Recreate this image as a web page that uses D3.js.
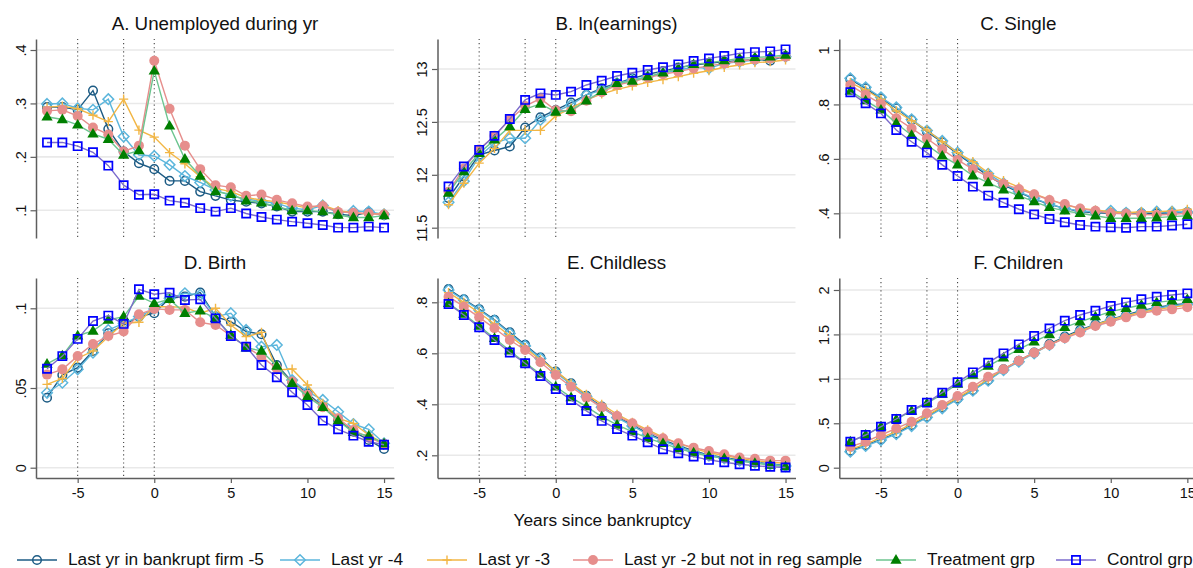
<!DOCTYPE html>
<html>
<head>
<meta charset="utf-8">
<script src="https://cdn.jsdelivr.net/npm/d3@7"></script>
<style>
  body { margin: 0; background: #fff; }
  svg { display: block; font-family: "Liberation Sans", Arial, Helvetica, sans-serif; }
</style>
</head>
<body>
<svg id="chart" width="1193" height="568"></svg>
<script>
// ---- data -------------------------------------------------------------
const years = [-7, -6, -5, -4, -3, -2, -1, 0, 1, 2, 3, 4, 5, 6, 7, 8, 9, 10, 11, 12, 13, 14, 15];

const seriesNames = [
  "Last yr in bankrupt firm -5",
  "Last yr -4",
  "Last yr -3",
  "Last yr -2 but not in reg sample",
  "Treatment grp",
  "Control grp"
];

const panelTitles = [
  "A. Unemployed during yr", "B. ln(earnings)", "C. Single",
  "D. Birth", "E. Childless", "F. Children"
];

const eventYears = [-5, -2, 0];
const xTickValues = [-5, 0, 5, 10, 15];
const xTickLabels = ["-5", "0", "5", "10", "15"];
const xAxisTitle = "Years since bankruptcy";

// each panel: one row per series, in the order of seriesNames
const unemployed = [
  [.293, .293, .288, .324, .252, .210, .188, .177, .155, .155, .135, .127, .119, .116, .113, .107, .0975, .0975, .0975, .0925, .090, .096, .091],
  [.299, .300, .291, .288, .308, .238, .2035, .2016, .185, .164, .152, .138, .127, .121, .117, .113, .104, .101, .109, .0955, .0987, .0975, .0924],
  [.293, .295, .290, .278, .266, .308, .250, .237, .208, .187, .163, .141, .135, .124, .119, .116, .110, .104, .110, .0993, .0955, .0924, .0943],
  [.286, .288, .2765, .255, .242, .210, .221, .380, .290, .221, .177, .147, .143, .127, .1295, .1195, .113, .107, .108, .097, .0955, .094, .092],
  [.275, .270, .260, .243, .233, .2035, .2116, .361, .258, .196, .164, .135, .130, .118, .114, .107, .0993, .0993, .0975, .0912, .0865, .0865, .090],
  [.227, .227, .220, .2085, .1835, .147, .129, .130, .118, .114, .104, .0975, .104, .094, .0875, .0825, .0787, .0756, .0725, .0675, .0675, .0694, .0675]
];
const lnEarnings = [
  [11.78, 11.984, 12.189, 12.23, 12.267, 12.447, 12.544, 12.613, 12.682, 12.755, 12.818, 12.865, 12.912, 12.95, 12.98, 13.013, 13.038, 13.053, 13.07, 13.079, 13.091, 13.079, 13.123],
  [11.74, 11.94, 12.173, 12.30, 12.346, 12.346, 12.519, 12.597, 12.66, 12.755, 12.80, 12.865, 12.896, 12.928, 12.959, 12.99, 13.016, 13.006, 13.053, 13.069, 13.085, 13.10, 13.116],
  [11.717, 11.92, 12.11, 12.25, 12.42, 12.42, 12.42, 12.557, 12.63, 12.708, 12.764, 12.808, 12.84, 12.874, 12.90, 12.928, 12.96, 12.984, 13.016, 13.038, 13.06, 13.069, 13.085],
  [11.84, 12.06, 12.24, 12.37, 12.52, 12.65, 12.72, 12.61, 12.60, 12.70, 12.78, 12.85, 12.88, 12.92, 12.95, 12.975, 13.006, 13.03, 13.053, 13.075, 13.09, 13.10, 13.116],
  [11.827, 12.031, 12.204, 12.33, 12.456, 12.62, 12.67, 12.594, 12.61, 12.70, 12.79, 12.865, 12.887, 12.928, 12.965, 13.006, 13.044, 13.06, 13.079, 13.10, 13.11, 13.116, 13.132],
  [11.89, 12.079, 12.236, 12.368, 12.528, 12.708, 12.77, 12.755, 12.786, 12.849, 12.89, 12.934, 12.965, 12.991, 13.016, 13.044, 13.075, 13.10, 13.123, 13.148, 13.16, 13.167, 13.186]
];
const single = [
  [.892, .859, .822, .786, .743, .700, .661, .618, .578, .537, .504, .477, .453, .433, .418, .406, .402, .400, .400, .400, .400, .402, .404],
  [.896, .863, .826, .789, .745, .704, .666, .623, .581, .545, .510, .480, .455, .434, .418, .409, .406, .409, .402, .402, .406, .406, .404],
  [.880, .853, .819, .776, .740, .706, .663, .623, .590, .549, .520, .496, .471, .451, .431, .418, .412, .406, .402, .406, .406, .409, .415],
  [.871, .835, .802, .749, .712, .675, .635, .596, .562, .535, .508, .489, .470, .449, .434, .418, .409, .400, .398, .396, .394, .396, .400],
  [.849, .814, .780, .731, .687, .651, .611, .578, .538, .513, .486, .465, .443, .422, .409, .400, .391, .382, .382, .382, .384, .388, .391],
  [.8445, .804, .767, .706, .663, .623, .578, .537, .498, .465, .439, .415, .396, .379, .367, .357, .351, .349, .347, .351, .351, .355, .360]
];
const birth = [
  [.0439, .0582, .0628, .0732, .0843, .0895, .0948, .0969, .1063, .1073, .1098, .0948, .0916, .0854, .0837, .0644, .054, .0467, .0383, .0299, .0226, .0174, .0117],
  [.047, .0533, .0617, .0722, .0864, .0906, .0948, .0996, .1063, .1094, .1084, .0948, .0969, .0864, .0759, .077, .055, .0477, .0425, .0351, .0274, .0241, .0153],
  [.0523, .056, .0686, .0732, .0822, .0906, .0912, .101, .101, .1006, .0969, .100, .0895, .0822, .0849, .0613, .0619, .0519, .0404, .031, .0278, .0205, .0153],
  [.0584, .0617, .070, .0776, .0826, .0854, .0962, .0996, .099, .099, .0912, .0895, .0828, .0759, .0697, .0623, .054, .0456, .0379, .031, .0236, .0188, .0149],
  [.0651, .0703, .0828, .0858, .0927, .0948, .1077, .1031, .1056, .0969, .0985, .0937, .0833, .0753, .0732, .0638, .0529, .0446, .0379, .0295, .0222, .0199, .0151],
  [.0621, .070, .0808, .092, .0954, .0902, .1119, .1088, .1098, .1052, .1056, .0937, .0826, .0759, .0644, .0567, .0473, .0393, .0295, .0241, .0201, .0163, .0144]
];
const childless = [
  [.852, .812, .773, .731, .682, .633, .583, .528, .482, .433, .391, .352, .319, .286, .260, .238, .218, .201, .191, .182, .173, .166, .160],
  [.848, .809, .770, .728, .678, .629, .580, .525, .478, .430, .388, .348, .315, .282, .256, .234, .214, .199, .188, .179, .171, .165, .158],
  [.838, .800, .759, .715, .669, .622, .574, .531, .482, .439, .400, .361, .329, .300, .271, .247, .227, .210, .199, .188, .179, .173, .169],
  [.822, .783, .741, .698, .652, .613, .565, .515, .469, .426, .388, .354, .326, .293, .267, .247, .230, .217, .204, .191, .186, .179, .179],
  [.796, .754, .707, .659, .610, .563, .519, .469, .427, .391, .352, .319, .293, .267, .247, .227, .210, .197, .188, .178, .169, .162, .156],
  [.7935, .750, .702, .652, .603, .561, .511, .460, .417, .374, .335, .303, .277, .251, .224, .208, .195, .182, .173, .165, .159, .155, .152]
];
const children = [
  [.191, .255, .319, .386, .480, .574, .679, .780, .874, .987, 1.107, 1.204, 1.295, 1.392, 1.475, 1.550, 1.613, 1.670, 1.719, 1.767, 1.805, 1.831, 1.850],
  [.180, .244, .311, .379, .469, .567, .668, .769, .867, .979, 1.099, 1.193, 1.287, 1.381, 1.463, 1.538, 1.606, 1.662, 1.711, 1.756, 1.794, 1.820, 1.840],
  [.206, .266, .338, .405, .492, .585, .687, .788, .886, .998, 1.111, 1.204, 1.295, 1.381, 1.463, 1.538, 1.606, 1.662, 1.707, 1.749, 1.782, 1.805, 1.831],
  [.236, .293, .368, .443, .518, .612, .705, .807, .912, 1.024, 1.107, 1.204, 1.295, 1.381, 1.456, 1.523, 1.595, 1.643, 1.692, 1.737, 1.767, 1.782, 1.805],
  [.293, .368, .462, .544, .638, .724, .829, .942, 1.043, 1.144, 1.238, 1.332, 1.418, 1.500, 1.580, 1.643, 1.700, 1.756, 1.794, 1.831, 1.861, 1.880, 1.895],
  [.293, .368, .462, .548, .649, .732, .844, .961, 1.073, 1.182, 1.287, 1.388, 1.482, 1.568, 1.655, 1.719, 1.767, 1.820, 1.861, 1.895, 1.925, 1.944, 1.962]
];

// y-axis ticks per panel
const unemployedTicks = [0.1, 0.2, 0.3, 0.4];
const unemployedTickLabels = [".1", ".2", ".3", ".4"];
const lnEarningsTicks = [11.5, 12, 12.5, 13];
const lnEarningsTickLabels = ["11.5", "12", "12.5", "13"];
const singleTicks = [0.4, 0.6, 0.8, 1];
const singleTickLabels = [".4", ".6", ".8", "1"];
const birthTicks = [0, 0.05, 0.1];
const birthTickLabels = ["0", ".05", ".1"];
const childlessTicks = [0.2, 0.4, 0.6, 0.8];
const childlessTickLabels = [".2", ".4", ".6", ".8"];
const childrenTicks = [0, 0.5, 1, 1.5, 2];
const childrenTickLabels = ["0", ".5", "1", "1.5", "2"];

// ---- layout & style -----------------------------------------------------
const W = 1193, H = 568;
const colLeft = [36, 437.5, 839.3];
const plotW = 358;
const rowTop = [39, 278];
const rowBottom = [238, 478];
const xDomain = [-7.72, 15.65];

const panels = [
  { title: panelTitles[0], values: unemployed, ticks: unemployedTicks, labels: unemployedTickLabels, yDomain: [0.0481, 0.4206] },
  { title: panelTitles[1], values: lnEarnings, ticks: lnEarningsTicks, labels: lnEarningsTickLabels, yDomain: [11.4026, 13.2836] },
  { title: panelTitles[2], values: single, ticks: singleTicks, labels: singleTickLabels, yDomain: [0.3093, 1.0404] },
  { title: panelTitles[3], values: birth, ticks: birthTicks, labels: birthTickLabels, yDomain: [-0.00646, 0.119] },
  { title: panelTitles[4], values: childless, ticks: childlessTicks, labels: childlessTickLabels, yDomain: [0.111, 0.8953] },
  { title: panelTitles[5], values: children, ticks: childrenTicks, labels: childrenTickLabels, yDomain: [-0.116, 2.135] }
];

const seriesStyle = [
  { line: "#1c5b84", shape: "circle",   size: 4.3, stroke: "#1c5b84", fill: "none",    sw: 1.5 },
  { line: "#5cb6dc", shape: "diamond",  size: 5.3, stroke: "#5cb6dc", fill: "none",    sw: 1.5 },
  { line: "#f2b645", shape: "plus",     size: 4.6, stroke: "#f2b645", fill: "none",    sw: 1.4 },
  { line: "#e68e8c", shape: "circle",   size: 5.0, stroke: "none",    fill: "#e68e8c", sw: 0 },
  { line: "#6cc58f", shape: "triangle", size: 6.2, stroke: "none",    fill: "#007f00", sw: 0 },
  { line: "#7b6bcc", shape: "square",   size: 4.1, stroke: "#0000ff", fill: "none",    sw: 1.7 }
];

const legendLineX = [17, 280, 427, 573, 876, 1056];
const fontTitle = 18.8, fontTick = 14.5, fontLegend = 17.3;
const axisColor = "#5e5e5e", gridColor = "#e9e9e9";

function markerPath(shape, s) {
  const p = d3.path();
  if (shape === "circle") {
    p.moveTo(s, 0); p.arc(0, 0, s, 0, 2 * Math.PI); p.closePath();
  } else if (shape === "diamond") {
    p.moveTo(0, -s); p.lineTo(s, 0); p.lineTo(0, s); p.lineTo(-s, 0); p.closePath();
  } else if (shape === "plus") {
    p.moveTo(-s, 0); p.lineTo(s, 0); p.moveTo(0, -s); p.lineTo(0, s);
  } else if (shape === "triangle") {
    const h = s * Math.sqrt(3) / 2;
    p.moveTo(0, -s * 0.95); p.lineTo(h * 1.05, s * 0.6); p.lineTo(-h * 1.05, s * 0.6); p.closePath();
  } else if (shape === "square") {
    p.rect(-s, -s, 2 * s, 2 * s);
  }
  return p.toString();
}

// ---- drawing -------------------------------------------------------------
const svg = d3.select("#chart");
svg.append("rect").attr("width", W).attr("height", H).attr("fill", "#fff");

panels.forEach((panel, pi) => {
  const row = Math.floor(pi / 3), col = pi % 3;
  const left = colLeft[col], right = left + plotW;
  const top = rowTop[row], bottom = rowBottom[row];

  const x = d3.scaleLinear().domain(xDomain).range([left, right]);
  const y = d3.scaleLinear().domain(panel.yDomain).range([bottom, top]);

  const g = svg.append("g").attr("class", "panel");

  // horizontal grid
  g.append("g").selectAll("line").data(panel.ticks).join("line")
    .attr("x1", left).attr("x2", right)
    .attr("y1", d => y(d)).attr("y2", d => y(d))
    .attr("stroke", gridColor).attr("stroke-width", 1.6);

  // dotted event lines
  g.append("g").selectAll("line").data(eventYears).join("line")
    .attr("x1", d => x(d)).attr("x2", d => x(d))
    .attr("y1", top).attr("y2", bottom)
    .attr("stroke", "#444").attr("stroke-width", 1.1)
    .attr("stroke-dasharray", "1.1,3");

  // y axis
  const yAxis = d3.axisLeft(y)
    .tickValues(panel.ticks)
    .tickFormat((d, i) => panel.labels[i])
    .tickSize(5.5).tickSizeOuter(0);
  const ya = g.append("g").attr("transform", `translate(${left},0)`).call(yAxis);
  ya.select(".domain").attr("stroke", axisColor).attr("stroke-width", 1.5);
  ya.selectAll(".tick line").attr("stroke", axisColor).attr("stroke-width", 1.2);
  ya.selectAll(".tick text")
    .attr("x", null).attr("dy", null)
    .attr("text-anchor", "middle")
    .attr("transform", "translate(-10.5,0) rotate(-90)")
    .attr("fill", "#111")
    .style("font-size", fontTick + "px")
    .style("font-family", "'Liberation Sans', Arial, sans-serif");

  // x axis on the bottom row only
  if (row === 1) {
    const xAxis = d3.axisBottom(x)
      .tickValues(xTickValues)
      .tickFormat((d, i) => xTickLabels[i])
      .tickSize(5).tickSizeOuter(0).tickPadding(5);
    const xa = g.append("g").attr("transform", `translate(0,${bottom})`).call(xAxis);
    xa.select(".domain").attr("stroke", axisColor).attr("stroke-width", 1.5);
    xa.selectAll(".tick line").attr("stroke", axisColor).attr("stroke-width", 1.2);
    xa.selectAll(".tick text")
      .attr("fill", "#111")
      .style("font-size", fontTick + "px")
      .style("font-family", "'Liberation Sans', Arial, sans-serif");
  }

  // title
  g.append("text")
    .attr("x", (left + right) / 2).attr("y", top - 9)
    .attr("text-anchor", "middle")
    .attr("fill", "#111")
    .style("font-size", fontTitle + "px")
    .text(panel.title);

  // series: line then markers, in legend order
  const line = d3.line().x((d, i) => x(years[i])).y(d => y(d));
  panel.values.forEach((vals, si) => {
    const st = seriesStyle[si];
    const sg = g.append("g");
    sg.append("path").datum(vals)
      .attr("d", line)
      .attr("fill", "none")
      .attr("stroke", st.line)
      .attr("stroke-width", 1.4);
    sg.selectAll("path.mk").data(vals).join("path")
      .attr("class", "mk")
      .attr("transform", (d, i) => `translate(${x(years[i])},${y(d)})`)
      .attr("d", markerPath(st.shape, st.size))
      .attr("fill", st.fill)
      .attr("stroke", st.stroke)
      .attr("stroke-width", st.sw);
  });
});

// x axis title
svg.append("text")
  .attr("x", 602.5).attr("y", 526)
  .attr("text-anchor", "middle")
  .attr("fill", "#111")
  .style("font-size", fontLegend + "px")
  .text(xAxisTitle);

// legend
const legend = svg.append("g");
seriesNames.forEach((name, i) => {
  const st = seriesStyle[i];
  const lx = legendLineX[i], ly = 560;
  const item = legend.append("g");
  item.append("line")
    .attr("x1", lx).attr("x2", lx + 40)
    .attr("y1", ly).attr("y2", ly)
    .attr("stroke", st.line).attr("stroke-width", 1.6);
  item.append("path")
    .attr("transform", `translate(${lx + 20},${ly})`)
    .attr("d", markerPath(st.shape, st.size))
    .attr("fill", st.fill)
    .attr("stroke", st.stroke)
    .attr("stroke-width", st.sw);
  item.append("text")
    .attr("x", lx + 51).attr("y", ly + 4.5)
    .attr("fill", "#111")
    .style("font-size", fontLegend + "px")
    .text(name);
});
</script>
</body>
</html>
